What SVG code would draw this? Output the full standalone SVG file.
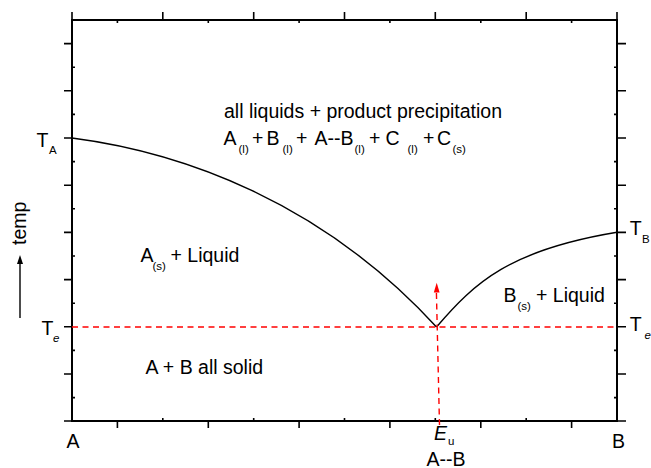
<svg xmlns="http://www.w3.org/2000/svg" width="651" height="468" viewBox="0 0 651 468">
<style>
.t{font-family:"Liberation Sans",Arial,sans-serif;font-size:19.5px;fill:#000}
.s{font-size:11.5px}
.i{font-style:italic}
.ax{stroke:#000;stroke-width:2;fill:none}
.tk{stroke:#000;stroke-width:1.6}
.cv{stroke:#000;stroke-width:1.4;fill:none}
.rd{stroke:#f00;stroke-width:1.4;stroke-dasharray:6,4.5;fill:none}
</style>
<rect x="0" y="0" width="651" height="468" fill="#fff"/>
<g id="axes">
<rect class="ax" x="72" y="20" width="545" height="401"/>
<g class="tk">
<path d="M64,43.6H72M64,90.8H72M64,138H72M64,185.2H72M64,232.4H72M64,279.6H72M64,326.8H72M64,374H72M64,421H72"/>
<path d="M72,67.2H75M72,114.4H75M72,161.6H75M72,208.8H75M72,256H75M72,303.2H75M72,350.4H75M72,397.6H75"/>
<path d="M617,43.6H626M617,90.8H626M617,138H626M617,185.2H626M617,232.4H626M617,279.6H626M617,326.8H626M617,374H626M617,421H626"/>
<path d="M614,67.2H617M614,114.4H617M614,161.6H617M614,208.8H617M614,256H617M614,303.2H617M614,350.4H617M614,397.6H617"/>
<path d="M72,12V20M162.8,12V20M253.7,12V20M344.5,12V20M435.3,12V20M526.2,12V20M617,12V20"/>
<path d="M117.4,20V23M208.3,20V23M299.1,20V23M389.9,20V23M480.8,20V23M571.6,20V23"/>
<path d="M117.4,421V428M208.3,421V428M299.1,421V428M389.9,421V428M480.8,421V428M571.6,421V428"/>
<path d="M162.8,418V421M253.7,418V421M344.5,418V421M435.3,418V421M526.2,418V421"/>
</g>
</g>
<g id="curves">
<path class="cv" d="M72,138 C180,152 320,200 436.5,327"/>
<path class="cv" d="M436.5,327 C475,282 510,250 617,232.3"/>
</g>
<g id="connectors">
<line class="rd" x1="72" y1="327" x2="617" y2="327"/>
<path class="rd" d="M439.5,425 L436.4,292"/>
<polygon points="436.7,282.7 433.8,292.5 439.6,292.5" fill="#f00"/>
<line x1="20" y1="318" x2="20" y2="262" stroke="#000" stroke-width="1.4"/>
<polygon points="20,255 17,264 23,264" fill="#000"/>
</g>
<g id="labels">
<text class="t" x="224" y="118">all liquids + product precipitation</text>
<text class="t" y="145"><tspan x="223.5">A</tspan><tspan class="s" x="238.5" y="153">(l)</tspan><tspan x="252" y="145">+</tspan><tspan x="266.5">B</tspan><tspan class="s" x="282.5" y="153">(l)</tspan><tspan x="296" y="145">+</tspan><tspan x="314.5">A--B</tspan><tspan class="s" x="354.5" y="153">(l)</tspan><tspan x="369" y="145">+</tspan><tspan x="385.5">C</tspan><tspan class="s" x="407.5" y="153">(l)</tspan><tspan x="423" y="145">+</tspan><tspan x="437">C</tspan><tspan class="s" x="452.5" y="153">(s)</tspan></text>
<text class="t" x="36.5" y="147">T<tspan class="s" x="49" y="153.5">A</tspan></text>
<text class="t" x="41.5" y="335">T<tspan class="s i" x="53" y="341.5">e</tspan></text>
<text class="t" x="629.7" y="235">T<tspan class="s" x="642" y="242.5">B</tspan></text>
<text class="t" x="629.7" y="331">T<tspan class="s i" x="644.5" y="339">e</tspan></text>
<text class="t" transform="translate(25.5,223.3) rotate(-90)" text-anchor="middle">temp</text>
<text class="t" x="140.5" y="262.3">A<tspan class="s" x="152.5" y="270">(s)</tspan><tspan x="170.5" y="262.3">+ Liquid</tspan></text>
<text class="t" x="503.5" y="302.3">B<tspan class="s" x="517.5" y="310">(s)</tspan><tspan x="536" y="302.3">+ Liquid</tspan></text>
<text class="t" x="145.5" y="374">A + B all solid</text>
<text class="t" x="66.5" y="448.3">A</text>
<text class="t" x="612" y="448.3">B</text>
<text class="t" x="434" y="440"><tspan class="i">E</tspan><tspan class="s" x="448" y="444.5">u</tspan></text>
<text class="t" x="426.5" y="465.5">A--B</text>
</g>
</svg>
